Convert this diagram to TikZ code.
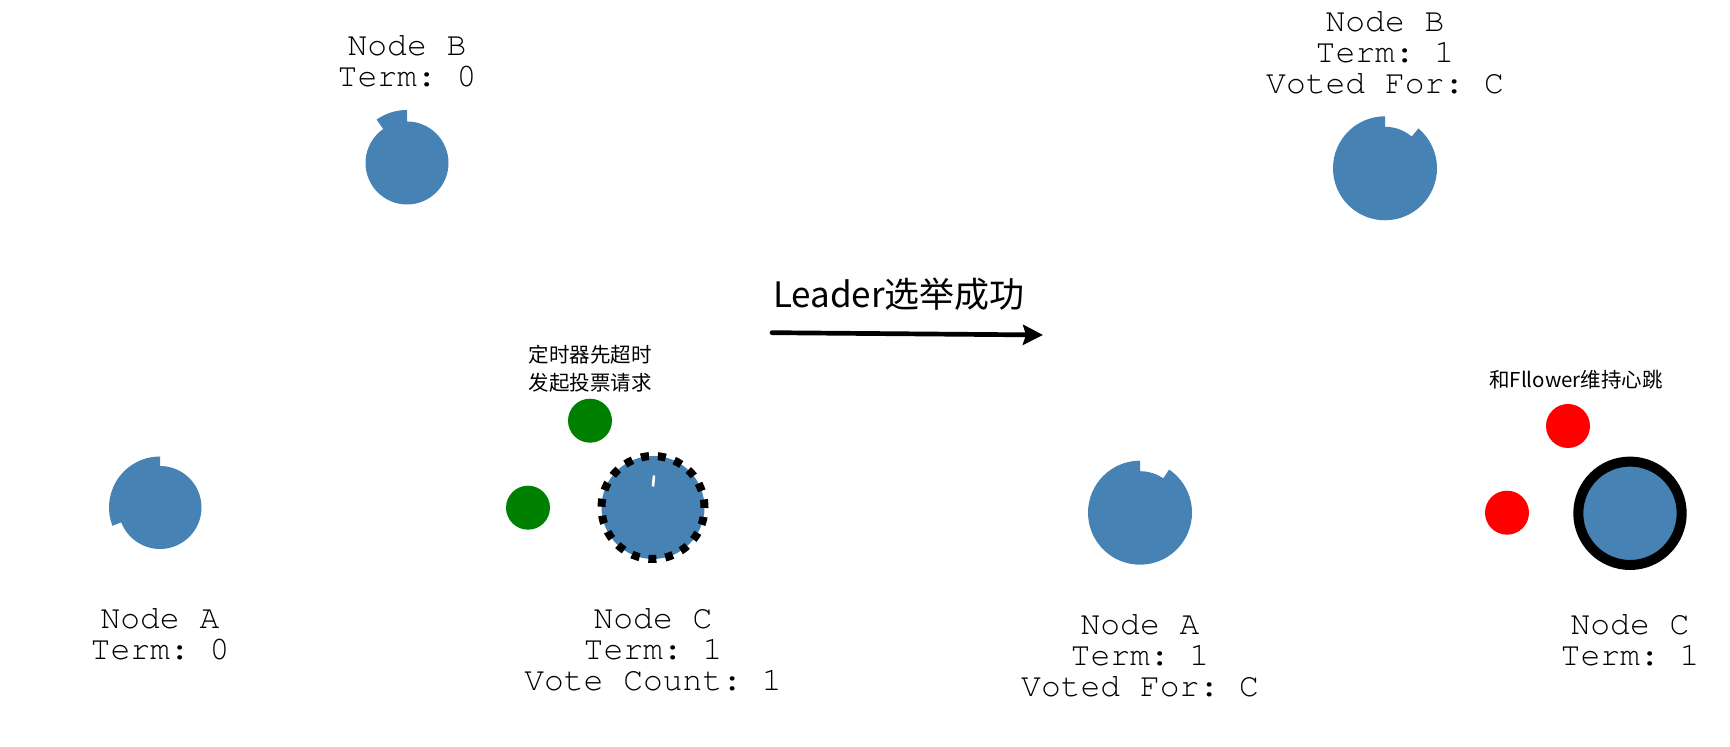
\documentclass[tikz,border=0pt]{standalone}
\usepackage{fontspec}
\setmonofont{TeX Gyre Cursor}
\newfontfamily\cjk{Noto Sans CJK SC}
\usetikzlibrary{positioning}
\usetikzlibrary{arrows.meta}
\definecolor{steelblue}{HTML}{4682B4}
\definecolor{votegreen}{HTML}{008000}

\begin{document}
\begin{tikzpicture}[
    x=0.5pt, y=0.5pt,
    servernode/.style={circle, fill=steelblue, inner sep=0pt, outer sep=0pt, minimum size=41.5pt},
    candidatenode/.style={circle, fill=steelblue, draw=black, line width=4pt, dash pattern=on 4pt off 4.5pt, inner sep=0pt, outer sep=0pt, minimum size=51.5pt},
    leadernode/.style={circle, fill=steelblue, draw=black, line width=5pt, inner sep=0pt, outer sep=0pt, minimum size=51.7pt},
    votenode/.style={circle, fill=votegreen, inner sep=0pt, outer sep=0pt, minimum size=22pt},
    beatnode/.style={circle, fill=red, inner sep=0pt, outer sep=0pt, minimum size=22pt},
    infolabel/.style={align=center, inner sep=0pt, font=\ttfamily\frenchspacing\fontsize{16.5}{15.5}\selectfont},
    notelabel/.style={align=center, inner sep=0pt, font=\cjk\fontsize{10.25}{14}\selectfont},
  ]
  \useasboundingbox (0,0) rectangle (1730,747);

  %               %Nodes (before)
  \node[servernode]    (aleft)   at (160,239.5)  {};
  \node[servernode]    (bleft)   at (407,584)    {};
  \node[candidatenode] (cleft)   at (653,239.5)  {};
  \node[votenode]      (vote1)   at (590,326.3)  {};
  \node[votenode]      (vote2)   at (528,239.3)  {};

  %               %Nodes (after)
  \node[servernode]    (aright)  at (1140,234.3) {};
  \node[servernode]    (bright)  at (1385,578.7) {};
  \node[leadernode]    (cright)  at (1630,233.7) {};
  \node[beatnode]      (beat1)   at (1568,321)   {};
  \node[beatnode]      (beat2)   at (1507,234.3) {};

  %   %Timers
  \fill[steelblue] (aleft.center) -- ++(90:51) arc[start angle=90, end angle=201, radius=51] -- cycle;
  \fill[steelblue] (bleft.center) -- ++(90:53) arc[start angle=90, end angle=125, radius=53] -- cycle;
  \fill[steelblue] (aright.center) -- ++(90:52) arc[start angle=90, end angle=416, radius=52] -- cycle;
  \fill[steelblue] (bright.center) -- ++(90:52) arc[start angle=90, end angle=410, radius=52] -- cycle;
  \draw[white, line width=1.3pt] ([shift={(1,32)}]cleft.center) -- ([shift={(0,21)}]cleft.center);

  %   %Labels
  \node[infolabel] (infoaleft)  [below=29.75pt of aleft]  {Node A\\Term: 0};
  \node[infolabel] (infobleft)  [above=17pt of bleft]     {Node B\\Term: 0};
  \node[infolabel] (infocleft)  [below=24.6pt of cleft]   {Node C\\Term: 1\\Vote Count: 1};
  \node[infolabel] (infoaright) [below=30pt of aright]    {Node A\\Term: 1\\Voted For: C};
  \node[infolabel] (infobright) [above=16.3pt of bright]  {Node B\\Term: 1\\Voted For: C};
  \node[infolabel] (infocright) [below=24.5pt of cright]  {Node C\\Term: 1};

  \node[notelabel] (timeout)    [above=3pt of vote1]            {定时器先超时\\发起投票请求};
  \node[notelabel] (heartbeat)  [above=7pt of beat1, xshift=4pt] {和Fllower维持心跳};

  %   %Transition
  \coordinate (arrowstart) at (772,414.3);
  \coordinate (arrowend)   at (1043,412);
  \node[notelabel, font=\cjk\fontsize{17.5}{20}\selectfont] (elected) at (899,453) {Leader选举成功};
  \draw[-{Stealth[length=10pt, width=10pt, inset=1.5pt]}, line width=2.35pt, line cap=round] (arrowstart) -- (arrowend);
\end{tikzpicture}
\end{document}
